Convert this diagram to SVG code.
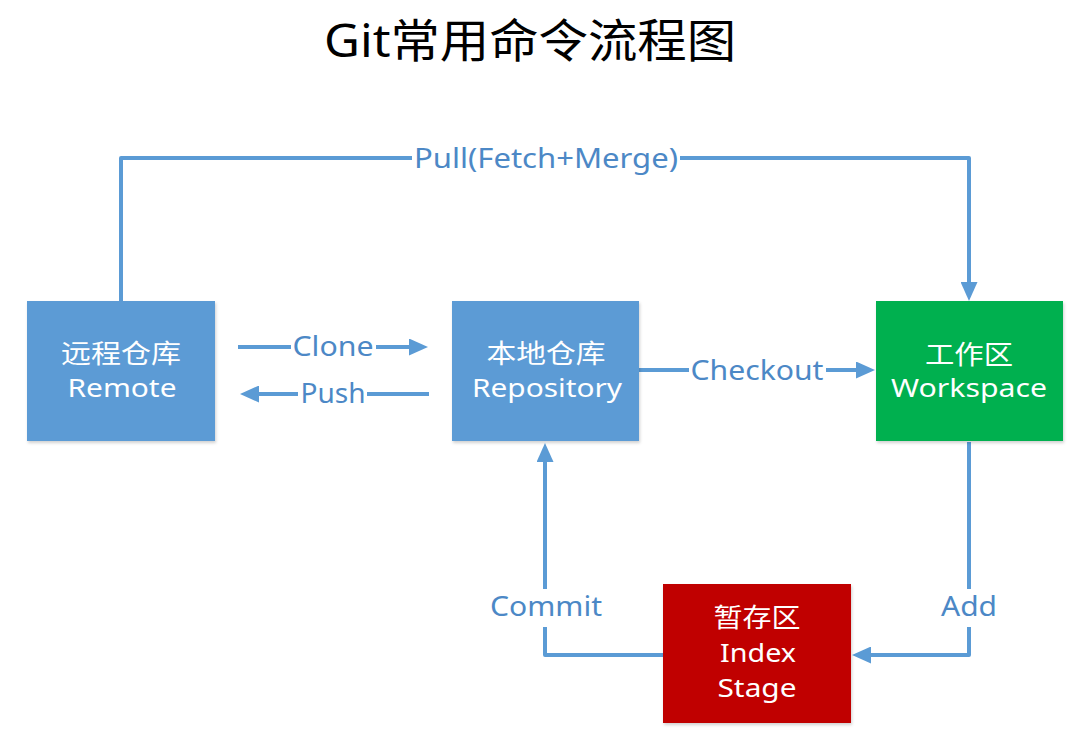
<svg xmlns="http://www.w3.org/2000/svg" width="1072" height="732" viewBox="0 0 1072 732">
  <defs>
    <style>
      text { font-family: "Noto Sans", "Noto Sans CJK SC", sans-serif; text-anchor: middle; }
      .title { font-size: 46px; fill: #000000; }
      .node { font-size: 26px; fill: #FFFFFF; }
      .lbl { font-size: 27px; fill: #4C88C6; }
      .edge { fill: none; stroke: #5B9BD5; stroke-width: 4; stroke-linejoin: round; }
      .arrow { marker-end: url(#ah); }
    </style>
    <marker id="ah" markerUnits="userSpaceOnUse" viewBox="0 0 19 17" markerWidth="19" markerHeight="17" refX="11" refY="8.5" orient="auto">
      <path d="M0,0 L19,8.5 L0,17 Z" fill="#5B9BD5"/>
    </marker>
    <filter id="sh" x="-10%" y="-10%" width="125%" height="125%">
      <feDropShadow dx="1" dy="2" stdDeviation="1.5" flood-color="#000000" flood-opacity="0.18"/>
    </filter>
  </defs>
  <rect width="1072" height="732" fill="#FFFFFF"/>

  <text class="title" x="530" y="57" textLength="412" lengthAdjust="spacingAndGlyphs">Git常用命令流程图</text>

  <g id="connectors">
    <path class="edge" d="M121,301 V158 H412"/>
    <path class="edge arrow" d="M680,158 H969 V293"/>
    <text class="lbl" x="546" y="168" textLength="264" lengthAdjust="spacingAndGlyphs">Pull(Fetch+Merge)</text>

    <path class="edge" d="M238,347 H291"/>
    <path class="edge arrow" d="M376,347 H420"/>
    <text class="lbl" x="333" y="356" textLength="81" lengthAdjust="spacingAndGlyphs">Clone</text>

    <path class="edge" d="M429,394 H367"/>
    <path class="edge arrow" d="M298,394 H248"/>
    <text class="lbl" x="333" y="403" textLength="65" lengthAdjust="spacingAndGlyphs">Push</text>

    <path class="edge" d="M639,370 H689"/>
    <path class="edge arrow" d="M826,370 H867"/>
    <text class="lbl" x="757" y="380" textLength="133" lengthAdjust="spacingAndGlyphs">Checkout</text>

    <path class="edge" d="M969,442 V589"/>
    <path class="edge arrow" d="M969,627 V655 H860"/>
    <text class="lbl" x="969" y="616" textLength="56" lengthAdjust="spacingAndGlyphs">Add</text>

    <path class="edge" d="M663,655 H545 V627"/>
    <path class="edge arrow" d="M545,589 V451"/>
    <text class="lbl" x="546" y="616" textLength="112" lengthAdjust="spacingAndGlyphs">Commit</text>
  </g>

  <g id="remote">
    <rect x="27" y="301" width="188" height="140" fill="#5B9BD5" filter="url(#sh)"/>
    <text class="node" x="121" y="363" textLength="120" lengthAdjust="spacingAndGlyphs">远程仓库</text>
    <text class="node" x="122" y="397" textLength="109" lengthAdjust="spacingAndGlyphs">Remote</text>
  </g>

  <g id="repository">
    <rect x="452" y="301" width="187" height="140" fill="#5B9BD5" filter="url(#sh)"/>
    <text class="node" x="546" y="363" textLength="119" lengthAdjust="spacingAndGlyphs">本地仓库</text>
    <text class="node" x="547" y="397" textLength="150" lengthAdjust="spacingAndGlyphs">Repository</text>
  </g>

  <g id="workspace">
    <rect x="876" y="301" width="187" height="140" fill="#00B050" filter="url(#sh)"/>
    <text class="node" x="969" y="364" textLength="88" lengthAdjust="spacingAndGlyphs">工作区</text>
    <text class="node" x="969" y="397" textLength="156" lengthAdjust="spacingAndGlyphs">Workspace</text>
  </g>

  <g id="stage">
    <rect x="663" y="584" width="188" height="139" fill="#C00000" filter="url(#sh)"/>
    <text class="node" x="757" y="627" textLength="87" lengthAdjust="spacingAndGlyphs">暂存区</text>
    <text class="node" x="758" y="662" textLength="76" lengthAdjust="spacingAndGlyphs">Index</text>
    <text class="node" x="757" y="697" textLength="79" lengthAdjust="spacingAndGlyphs">Stage</text>
  </g>
</svg>
